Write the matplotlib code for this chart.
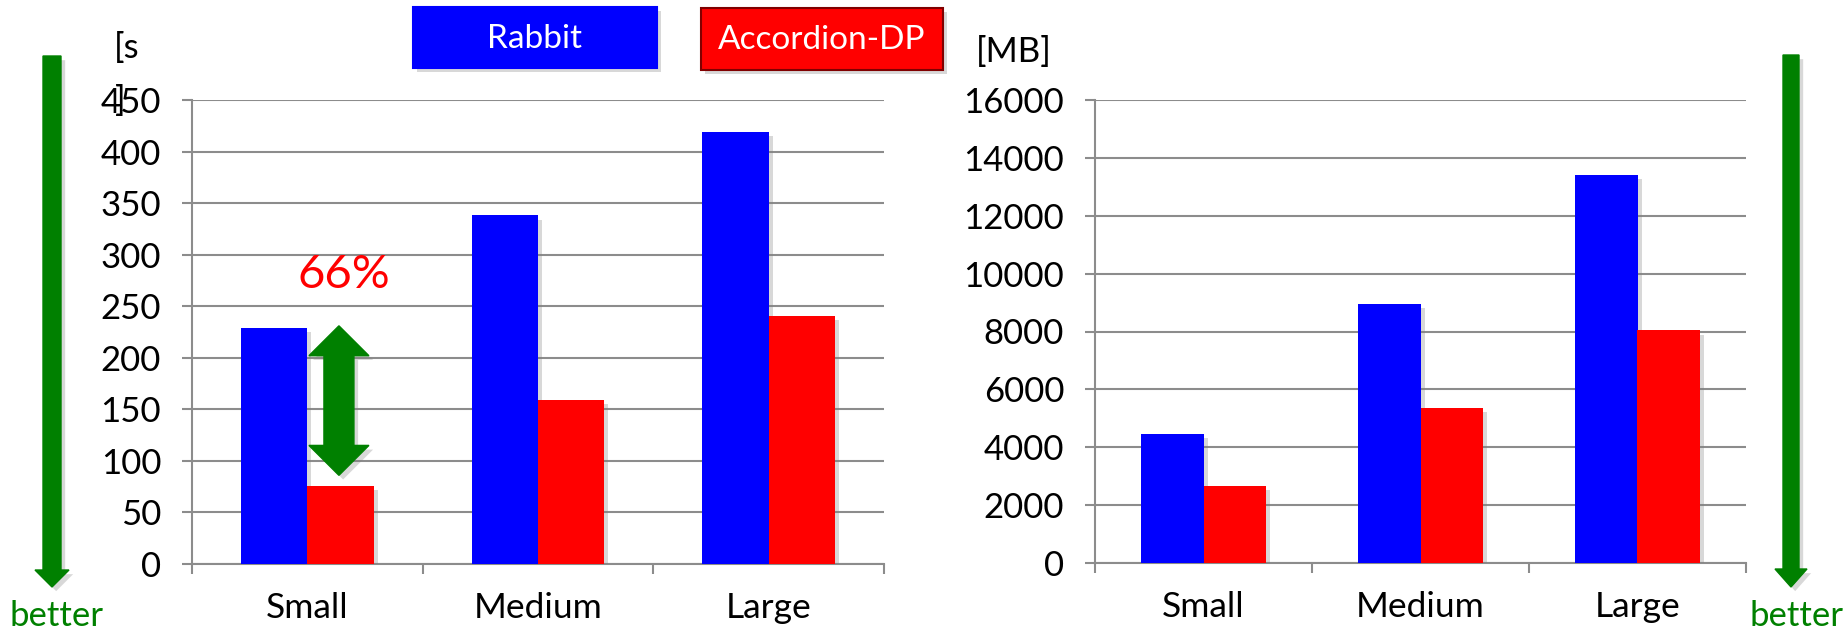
import numpy as np
import matplotlib
matplotlib.use("Agg")
import matplotlib.pyplot as plt
import matplotlib.patches as mpatches
import matplotlib.patheffects as pe

sizes = ["Small", "Medium", "Large"]
time_rabbit = [229, 338, 419]
time_accordion = [76, 159, 241]
mem_rabbit = [4460, 8940, 13420]
mem_accordion = [2670, 5360, 8040]
time_ticks = np.arange(0, 451, 50)
mem_ticks = np.arange(0, 16001, 2000)

BLUE = "#0000ff"
RED = "#ff0000"
GREEN = "#008000"
GRID = "#8c8c8c"

plt.rcParams["font.family"] = ["Lato", "DejaVu Sans"]

W, H = 1849, 627
fig = plt.figure(figsize=(W / 100, H / 100), dpi=100)

shadow = [pe.SimplePatchShadow(offset=(3, -3), shadow_rgbFace="gray", alpha=0.3), pe.Normal()]


def bar_panel(rect, rabbit, accordion, ticks):
    ax = fig.add_axes(rect)
    x = np.arange(len(sizes))
    w = 0.287
    for vals, off, col in ((rabbit, -w / 2, BLUE), (accordion, w / 2, RED)):
        bars = ax.bar(x + off, vals, w, color=col, zorder=3)
        for b in bars:
            b.set_path_effects(shadow)
    ax.set_xlim(-0.5, len(sizes) - 0.5)
    ax.set_ylim(ticks[0], ticks[-1])
    ax.set_yticks(ticks)
    ax.set_xticks(x)
    ax.set_xticklabels(sizes)
    ax.set_xticks(np.arange(len(sizes) + 1) - 0.5, minor=True)
    ax.grid(axis="y", color=GRID, lw=1.5, zorder=0)
    ax.tick_params(axis="y", length=7.2, width=1.5, color=GRID, pad=15, labelsize=25)
    ax.tick_params(axis="x", which="major", length=0, pad=20, labelsize=25.5)
    ax.tick_params(axis="x", which="minor", length=7.5, width=1.5, color=GRID)
    for s in ("top", "right"):
        ax.spines[s].set_visible(False)
    for s in ("left", "bottom"):
        ax.spines[s].set_color(GRID)
        ax.spines[s].set_linewidth(1.5)
    return ax


ax1 = bar_panel([192 / W, 63 / H, 692 / W, 464 / H], time_rabbit, time_accordion, time_ticks)
ax2 = bar_panel([1095 / W, 64 / H, 651 / W, 463 / H], mem_rabbit, mem_accordion, mem_ticks)

# double arrow between the Small bars of the time chart
xc, hs, hh = 0.137, 0.065, 0.13
top, bot, hl = time_rabbit[0] + 2, time_accordion[0] + 10, 29
pts = [(xc, top), (xc + hh, top - hl), (xc + hs, top - hl), (xc + hs, bot + hl),
       (xc + hh, bot + hl), (xc, bot), (xc - hh, bot + hl), (xc - hs, bot + hl),
       (xc - hs, top - hl), (xc - hh, top - hl)]
dbl = mpatches.Polygon(pts, closed=True, color=GREEN, zorder=5)
dbl.set_path_effects(shadow)
ax1.add_patch(dbl)
ax1.text(0.158, 280, "66%", color=RED, fontsize=34, ha="center", va="center", zorder=6)

# overlay in pixel coordinates for legend boxes, units and "better" arrows
ov = fig.add_axes([0, 0, 1, 1], zorder=10)
ov.set_xlim(0, W)
ov.set_ylim(H, 0)
ov.axis("off")


def down_arrow(xc, y0, tip, sw, hw, hl):
    p = [(xc - sw / 2, y0), (xc + sw / 2, y0), (xc + sw / 2, tip - hl), (xc + hw / 2, tip - hl),
         (xc, tip), (xc - hw / 2, tip - hl), (xc - sw / 2, tip - hl)]
    a = mpatches.Polygon(p, closed=True, color=GREEN)
    a.set_path_effects(shadow)
    ov.add_patch(a)


down_arrow(52, 56, 587, 18, 34, 17)
down_arrow(1791, 55, 587, 16, 32, 18)
ov.text(56, 626, "better", color=GREEN, fontsize=25, ha="center", va="baseline")
ov.text(1796, 626, "better", color=GREEN, fontsize=25, ha="center", va="baseline")

for (x0, x1, y0, y1, col, edge, label) in ((413, 657, 7, 68, BLUE, BLUE, "Rabbit"),
                                           (701, 943, 8, 70, RED, "#800000", "Accordion-DP")):
    r = mpatches.Rectangle((x0, y0), x1 - x0, y1 - y0, facecolor=col, edgecolor=edge, lw=1.5)
    r.set_path_effects(shadow)
    ov.add_patch(r)
    ov.text((x0 + x1) / 2, (y0 + y1) / 2 + 1, label, color="white", fontsize=24,
            ha="center", va="center")

ov.text(114, 58, "[s", fontsize=25, ha="left", va="baseline")
ov.text(115, 111, "]", fontsize=25, ha="left", va="baseline")
ov.text(976, 62, "[MB]", fontsize=25, ha="left", va="baseline")

fig.savefig("out.png", dpi=100)
